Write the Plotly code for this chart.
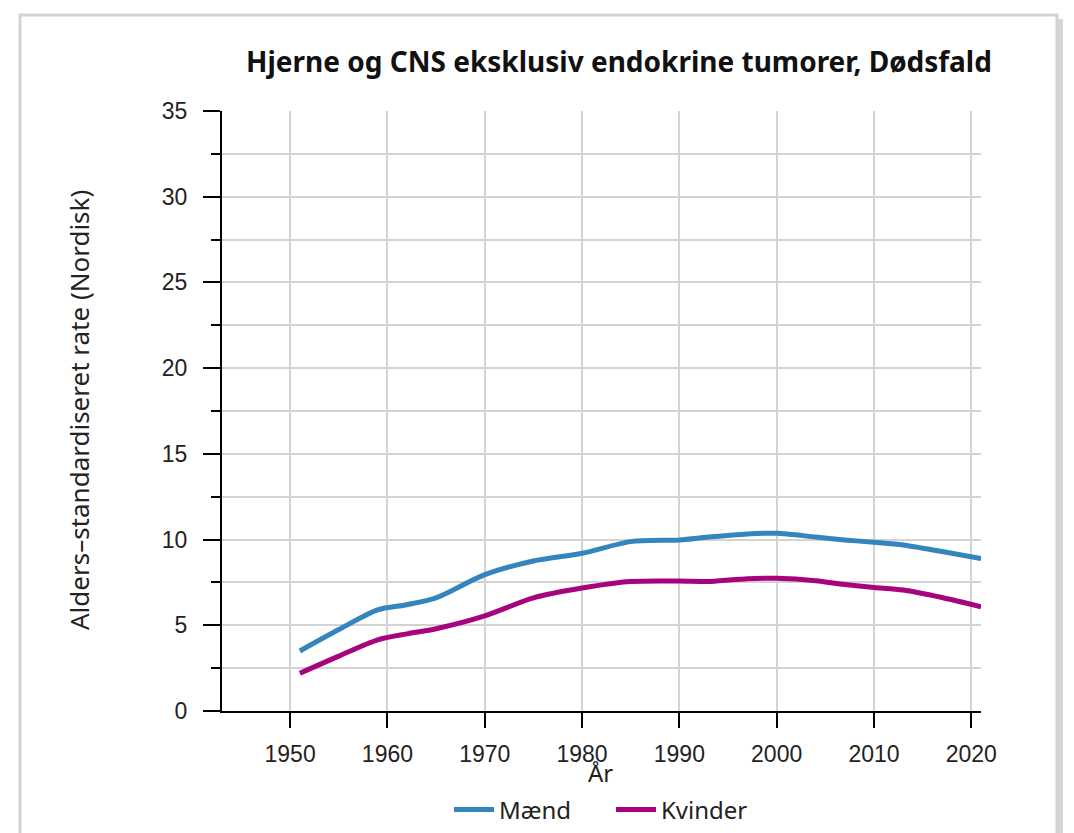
import plotly.graph_objects as go

# Data
years_m = [1951, 1955, 1959, 1962, 1965, 1970, 1975, 1980, 1985, 1990, 1993, 1997, 2000, 2004, 2007, 2010, 2013, 2017, 2021]
maend = [3.5, 4.75, 5.9, 6.2, 6.6, 7.95, 8.75, 9.2, 9.88, 9.98, 10.15, 10.33, 10.37, 10.15, 9.98, 9.84, 9.68, 9.3, 8.9]
years_k = [1951, 1955, 1959, 1962, 1965, 1970, 1975, 1980, 1985, 1990, 1993, 1997, 2000, 2004, 2007, 2010, 2013, 2017, 2021]
kvinder = [2.2, 3.2, 4.15, 4.5, 4.8, 5.55, 6.6, 7.17, 7.55, 7.58, 7.55, 7.72, 7.74, 7.6, 7.38, 7.21, 7.06, 6.62, 6.08]
x_ticks = [1950, 1960, 1970, 1980, 1990, 2000, 2010, 2020]
y_ticks = [0, 5, 10, 15, 20, 25, 30, 35]

OFF = 8  # page body margin
W, H = 1074, 833
L, R, T, B = 222 - OFF, 981 - OFF, 111 - OFF, 711 - OFF
pw, ph = R - L, B - T

def px(xs):
    return (xs - OFF - L) / pw

def py(ys):
    return (B - (ys - OFF)) / ph

fig = go.Figure()
fig.add_trace(go.Scatter(x=years_m, y=maend, mode="lines", name="Mænd",
                         line=dict(color="#3484BD", width=5, shape="spline", smoothing=0.8)))
fig.add_trace(go.Scatter(x=years_k, y=kvinder, mode="lines", name="Kvinder",
                         line=dict(color="#A8037F", width=5, shape="spline", smoothing=0.8)))

axis_font = dict(family="Liberation Sans, Arial, sans-serif", size=23, color="#222222")

fig.update_xaxes(range=[1943, 2021], tickvals=x_ticks, ticks="outside", ticklen=15, tickwidth=2,
                 tickcolor="black", showline=True, linecolor="black", linewidth=2,
                 showgrid=True, gridcolor="#d3d3d3", gridwidth=2, zeroline=False,
                 tickfont=axis_font, ticklabelstandoff=6)
fig.update_yaxes(range=[0, 35], tickvals=y_ticks, ticks="outside", ticklen=17, tickwidth=2,
                 tickcolor="black", showline=True, linecolor="black", linewidth=2,
                 showgrid=True, gridcolor="#d3d3d3", gridwidth=2, zeroline=False,
                 tickfont=axis_font, ticklabelstandoff=11,
                 minor=dict(dtick=2.5, ticks="outside", ticklen=9, tickwidth=2, tickcolor="black",
                            showgrid=True, gridcolor="#d3d3d3", gridwidth=2))

fig.update_layout(
    width=W, height=H,
    margin=dict(l=L, r=W - R, t=T, b=H - B, autoexpand=False),
    paper_bgcolor="white", plot_bgcolor="white",
    title=dict(text="<b>Hjerne og CNS eksklusiv endokrine tumorer, Dødsfald</b>",
               x=(619 - OFF) / W, xanchor="center", xref="container",
               y=1 - (62 - OFF) / H, yanchor="middle", yref="container",
               font=dict(family="Noto Sans, sans-serif", size=28, color="#111111")),
    legend=dict(orientation="h", x=px(449), xanchor="left", y=py(810), yanchor="middle",
                font=dict(family="Noto Sans, sans-serif", size=24, color="#222222"),
                itemwidth=40, entrywidth=107, entrywidthmode="pixels",
                bgcolor="rgba(0,0,0,0)"),
    annotations=[
        dict(text="År", x=px(600), y=py(772), xref="paper", yref="paper", showarrow=False,
             xanchor="center", yanchor="middle",
             font=dict(family="Noto Sans, sans-serif", size=24, color="#222222")),
        dict(text="Alders–standardiseret rate (Nordisk)", x=px(79), y=py(410), xref="paper", yref="paper",
             showarrow=False, textangle=-90, xanchor="center", yanchor="middle",
             font=dict(family="Noto Sans, sans-serif", size=26, color="#222222")),
    ],
    shapes=[
        dict(type="rect", xref="paper", yref="paper", x0=px(1058), x1=px(1063), y0=py(860), y1=py(19),
             line=dict(width=0), fillcolor="#d6d6d6", layer="below"),
        dict(type="rect", xref="paper", yref="paper", x0=px(20), x1=px(1057), y0=py(860), y1=py(15),
             line=dict(color="#d3d3d3", width=3), layer="below"),
    ],
)

fig.write_html("out.html")
